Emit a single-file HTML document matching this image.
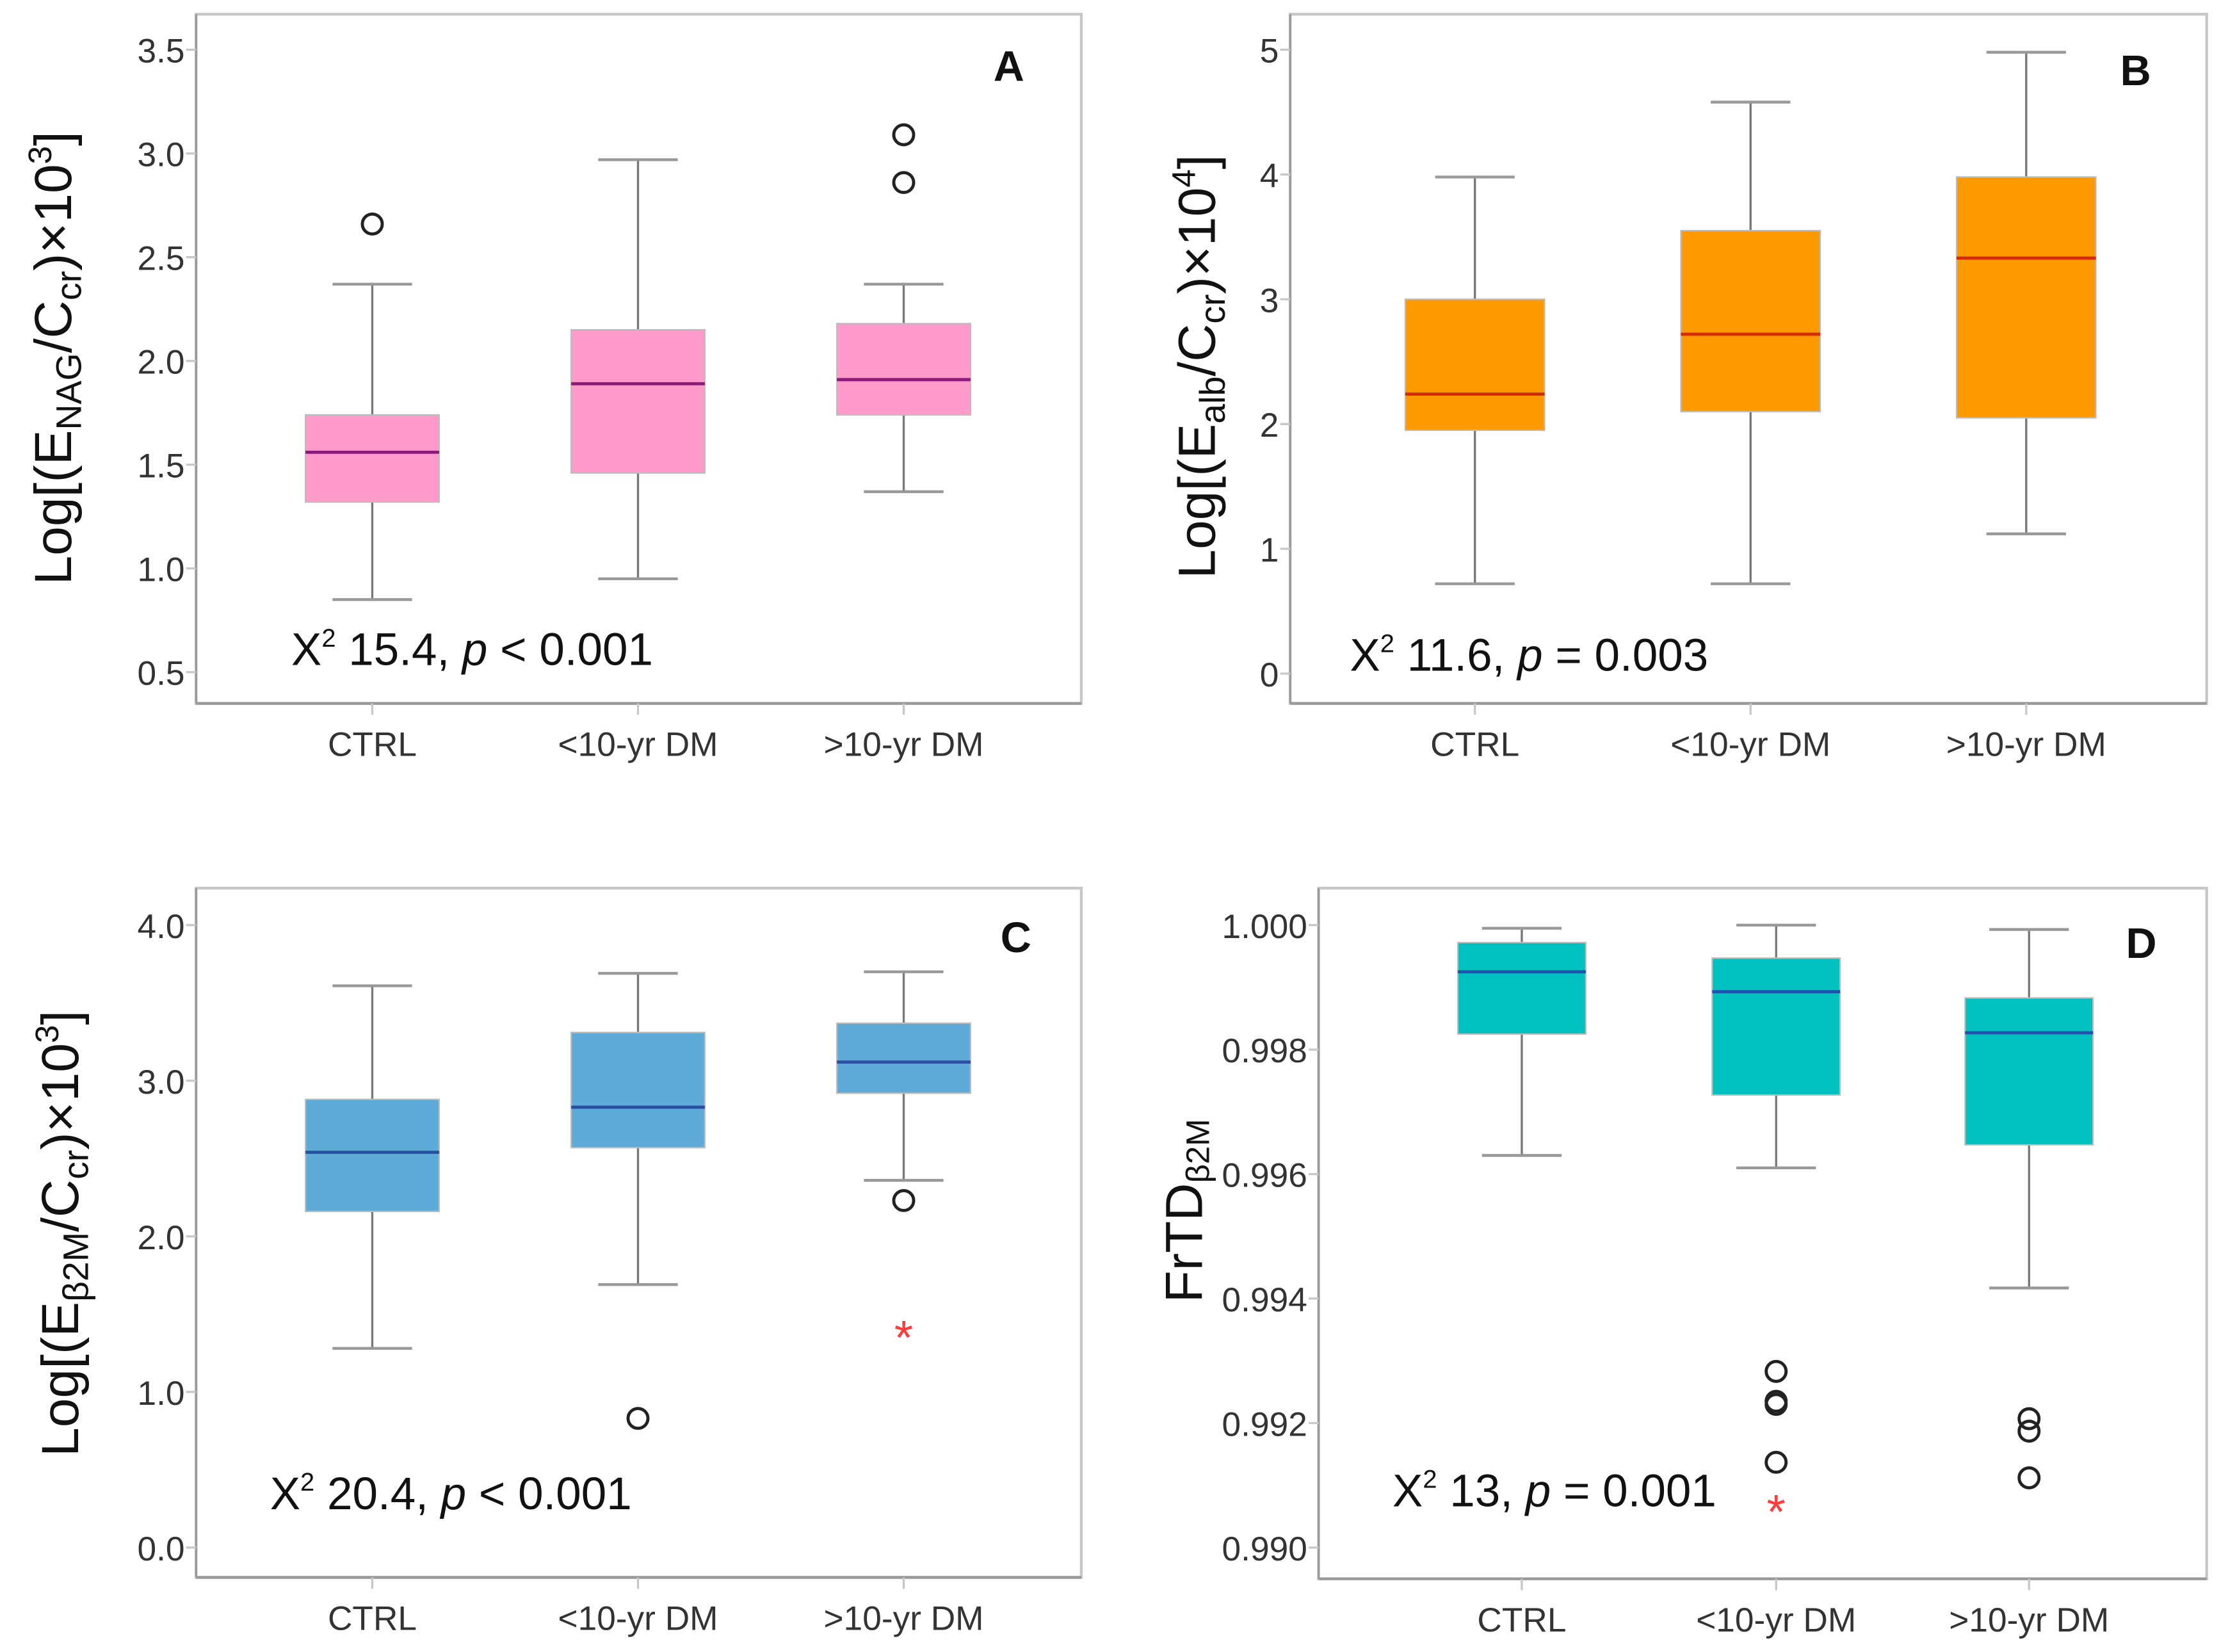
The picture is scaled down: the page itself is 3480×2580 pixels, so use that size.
<!DOCTYPE html>
<html><head><meta charset="utf-8"><style>
html,body{margin:0;padding:0;background:#fff;}
svg{display:block;font-family:"Liberation Sans",sans-serif;}
</style></head><body>
<svg id="fig" width="3480" height="2580" viewBox="0 0 1568 1162.5" xmlns="http://www.w3.org/2000/svg"></svg>
<script>
const categories = ["CTRL", "<10-yr DM", ">10-yr DM"];
// [min, q1, median, q3, max]
const statsA = [[0.85,1.32,1.56,1.74,2.37],[0.95,1.46,1.89,2.15,2.97],[1.37,1.74,1.91,2.18,2.37]];
const outliersA = [[2.66],[],[2.86,3.09]];
const starsA = [[],[],[]];
const ticksA = ["0.5","1.0","1.5","2.0","2.5","3.0","3.5"];
const statsB = [[0.72,1.95,2.24,3.0,3.98],[0.72,2.1,2.72,3.55,4.58],[1.12,2.05,3.33,3.98,4.98]];
const outliersB = [[],[],[]];
const starsB = [[],[],[]];
const ticksB = ["0","1","2","3","4","5"];
const statsC = [[1.28,2.16,2.54,2.88,3.61],[1.69,2.57,2.83,3.31,3.69],[2.36,2.92,3.12,3.37,3.70]];
const outliersC = [[],[0.83],[2.23]];
const starsC = [[],[],[1.38]];
const ticksC = ["0.0","1.0","2.0","3.0","4.0"];
const statsD = [[0.9963,0.99825,0.99925,0.99972,0.99995],[0.9961,0.99727,0.99893,0.99947,1.0],[0.99417,0.99647,0.99827,0.99883,0.99993]];
const outliersD = [[],[0.99283,0.99235,0.9923,0.99137],[0.99207,0.99187,0.99112]];
const starsD = [[],[0.99065],[]];
const ticksD = ["0.990","0.992","0.994","0.996","0.998","1.000"];

const NS="http://www.w3.org/2000/svg";
const svg=document.getElementById('fig');
function el(tag,attrs,parent){const e=document.createElementNS(NS,tag);for(const k in attrs)e.setAttribute(k,attrs[k]);(parent||svg).appendChild(e);return e;}

const panels=[
 {id:'a',L:138,R:761,T:10,B:495,xs:[262,449,636],bw:94,v0:0.5,v1:3.5,p0:473,p1:35,ticks:ticksA,stats:statsA,out:outliersA,star:starsA,fill:'#ff9acb',med:'#8b1a7a',letter:'A',lx:710,ly:57,
  ytx:50,yty:252,title:['Log[(E','NAG','/C','cr',')×10','3',']'],stat:['X',' 15.4, ','p',' < 0.001'],sx:205,sy:468},
 {id:'b',L:908,R:1553,T:10,B:495,xs:[1038,1232,1426],bw:98,v0:0,v1:5,p0:474,p1:35,ticks:ticksB,stats:statsB,out:outliersB,star:starsB,fill:'#ff9900',med:'#d42a0a',letter:'B',lx:1503,ly:60,
  ytx:855,yty:258,title:['Log[(E','alb','/C','cr',')×10','4',']'],stat:['X',' 11.6, ','p',' = 0.003'],sx:950,sy:472},
 {id:'c',L:138,R:761,T:625,B:1110,xs:[262,449,636],bw:94,v0:0,v1:4,p0:1089,p1:651,ticks:ticksC,stats:statsC,out:outliersC,star:starsC,fill:'#5eaad9',med:'#2a4fa0',letter:'C',lx:715,ly:670,
  ytx:55,yty:868,title:['Log[(E','β2M','/C','cr',')×10','3',']'],stat:['X',' 20.4, ','p',' < 0.001'],sx:190,sy:1062},
 {id:'d',L:928,R:1553,T:625,B:1111,xs:[1071,1250,1428],bw:90,v0:0.990,v1:1.000,p0:1089,p1:651,ticks:ticksD,stats:statsD,out:outliersD,star:starsD,fill:'#00c0c0',med:'#2050b0',letter:'D',lx:1507,ly:674,
  ytx:846,yty:852,title:['FrTD','β2M'],stat:['X',' 13, ','p',' = 0.001'],sx:980,sy:1060}
];

panels.forEach(P=>{
 const g=el('g',{});
 
 
 const y=v=>P.p0+(v-P.v0)/(P.v1-P.v0)*(P.p1-P.p0);
 const fr=el('rect',{x:P.L,y:P.T,width:P.R-P.L,height:P.B-P.T,fill:'none',stroke:'#c8c8c8','stroke-width':2},g);
 
 
 el('line',{x1:P.L,y1:P.B,x2:P.R,y2:P.B,stroke:'#9a9a9a','stroke-width':2},g);
 el('line',{x1:P.L,y1:P.T,x2:P.L,y2:P.B,stroke:'#9a9a9a','stroke-width':1.5},g);
 P.ticks.forEach(t=>{
  const v=parseFloat(t),yy=y(v);
  el('line',{x1:P.L-7,y1:yy,x2:P.L,y2:yy,stroke:'#c8c8c8','stroke-width':1.5},g);
  const tx=el('text',{x:P.L-8,y:yy+9,'text-anchor':'end','font-size':24,fill:'#333'},g);
  tx.textContent=t;
  
  
 });
 categories.forEach((c,i)=>{
  const x=P.xs[i];
  el('line',{x1:x,y1:P.B,x2:x,y2:P.B+8,stroke:'#c8c8c8','stroke-width':1.5},g);
  const tx=el('text',{x:x,y:P.B+37,'text-anchor':'middle','font-size':24,fill:'#333'},g);
  tx.textContent=c;
  
  
  const s=P.stats[i];
  const bg=el('g',{},g);
  
  
  el('line',{x1:x,y1:y(s[0]),x2:x,y2:y(s[1]),stroke:'#777','stroke-width':1.5},bg);
  el('line',{x1:x,y1:y(s[3]),x2:x,y2:y(s[4]),stroke:'#777','stroke-width':1.5},bg);
  el('line',{x1:x-28,y1:y(s[0]),x2:x+28,y2:y(s[0]),stroke:'#999','stroke-width':2},bg);
  el('line',{x1:x-28,y1:y(s[4]),x2:x+28,y2:y(s[4]),stroke:'#999','stroke-width':2},bg);
  el('rect',{x:x-P.bw/2,y:y(s[3]),width:P.bw,height:y(s[1])-y(s[3]),fill:P.fill,stroke:'#bbb','stroke-width':1},bg);
  el('line',{x1:x-P.bw/2,y1:y(s[2]),x2:x+P.bw/2,y2:y(s[2]),stroke:P.med,'stroke-width':2.2},bg);
  P.out[i].forEach(o=>{
   const c2=el('circle',{cx:x,cy:y(o),r:7,fill:'none',stroke:'#222','stroke-width':2.2},g);
   
   
  });
  P.star[i].forEach(o=>{
   const st=el('text',{x:x,y:y(o)+15,'text-anchor':'middle','font-size':34,fill:'#ff3b3b'},g);
   st.textContent='*';
   
   
  });
 });
 const lt=el('text',{x:P.lx,y:P.ly,'text-anchor':'middle','font-size':30,'font-weight':'bold',fill:'#111'},g);
 lt.textContent=P.letter;
 
 
 const yt=el('text',{x:0,y:0,transform:`translate(${P.ytx},${P.yty}) rotate(-90)`,'text-anchor':'middle','font-size':37,fill:'#111'},g);
 
 
 P.title.forEach((part,k)=>{
  const ts=el('tspan',{},yt);
  ts.textContent=part;
  if(k%2===1){
   if(part==='3'||part==='4'){ts.setAttribute('font-size',23);ts.setAttribute('dy',-14);}
   else{ts.setAttribute('font-size',P.id==='d'?23:25);ts.setAttribute('dy',P.id==='d'?5:7);}
  } else if(k>0){
   const prev=P.title[k-1];
   ts.setAttribute('dy',(prev==='3'||prev==='4')?14:-7);
  }
 });
 const stt=el('text',{x:P.sx,y:P.sy,'font-size':32,fill:'#111'},g);
 
 
 const t1=el('tspan',{},stt);t1.textContent='X';
 const t2=el('tspan',{'font-size':18,dy:-13},stt);t2.textContent='2';
 const t3=el('tspan',{dy:13},stt);t3.textContent=P.stat[1];
 const t4=el('tspan',{'font-style':'italic'},stt);t4.textContent='p';
 const t5=el('tspan',{},stt);t5.textContent=P.stat[3];
});
</script>
</body></html>
